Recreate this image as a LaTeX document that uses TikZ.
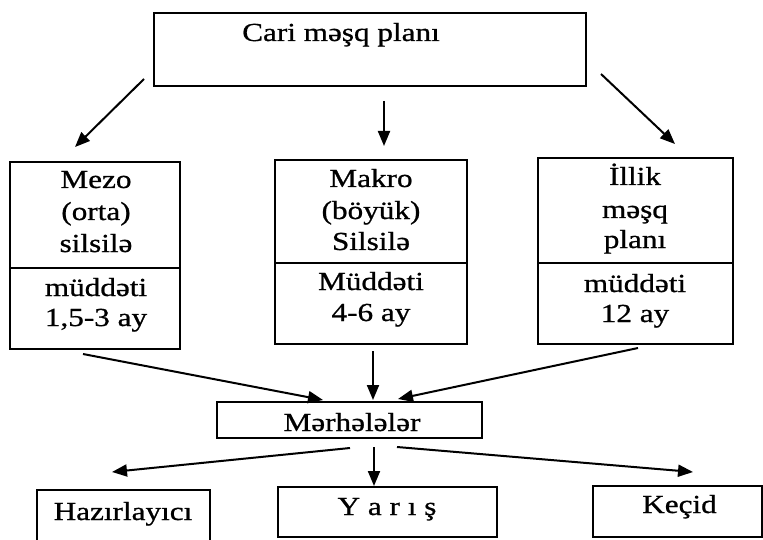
\documentclass[tikz,border=0pt]{standalone}
\usepackage{fontspec}
\setmainfont{Liberation Serif}[FakeStretch=1.2,FakeBold=0.8]
\usetikzlibrary{arrows.meta}
\begin{document}
\begin{tikzpicture}[x=1pt,y=-1pt,
  box/.style={draw,line width=2pt,inner sep=0pt,minimum width=#1},
  txt/.style={anchor=base,inner sep=0pt,font=\fontsize{26}{32}\selectfont},
  arr/.style={line width=2pt,-{Triangle[length=15pt,width=12pt]}},
  rule/.style={line width=2pt}]
\useasboundingbox (0,0) rectangle (763,540);

% top box
\node[box=432,minimum height=73] (top) at (370,49.5) {};
\node[txt] (toptxt) at (341,41) {Cari məşq planı};

% three period boxes
\node[box=170,minimum height=187] (mezo) at (95,255.5) {};
\node[box=192,minimum height=184] (makro) at (371,252) {};
\node[box=195,minimum height=186] (illik) at (635.5,251) {};
\draw[rule] (mezo.west |- 0,268) -- (mezo.east |- 0,268);
\draw[rule] (makro.west |- 0,263) -- (makro.east |- 0,263);
\draw[rule] (illik.west |- 0,263) -- (illik.east |- 0,263);

\node[txt] (mz1) at (96,188) {Mezo};
\node[txt] (mz2) at (96,220) {(orta)};
\node[txt] (mz3) at (96,252) {silsilə};
\node[txt] (mz4) at (96,296) {müddəti};
\node[txt] (mz5) at (96,326) {1,5-3 ay};

\node[txt] (mk1) at (371,187) {Makro};
\node[txt] (mk2) at (371,219) {(böyük)};
\node[txt] (mk3) at (371,250) {Silsilə};
\node[txt] (mk4) at (371,290) {Müddəti};
\node[txt] (mk5) at (371,321) {4-6 ay};

\node[txt] (il1) at (635,185) {İllik};
\node[txt] (il2) at (635,218) {məşq};
\node[txt] (il3) at (635,248) {planı};
\node[txt] (il4) at (635,292) {müddəti};
\node[txt] (il5) at (635,322) {12 ay};

% stages
\node[box=265,minimum height=36] (merh) at (349.5,420) {};
\node[txt] (merhtxt) at (352,431) {Mərhələlər};

\node[box=173,minimum height=55] (hazir) at (123.5,517.5) {};
\node[txt] (hazirtxt) at (123,520) {Hazırlayıcı};
\node[box=219,minimum height=50] (yaris) at (387.5,512) {};
\node[txt] (yaristxt) at (387,515) {Y a r ı ş};
\node[box=169,minimum height=51] (kecid) at (677.5,511.5) {};
\node[txt] (kecidtxt) at (679.5,513) {Keçid};

% connectors
\draw[arr] ([xshift=-9pt,yshift=8pt]top.south west) -- ([xshift=-20pt,yshift=14pt]mezo.north);
\draw[arr] ([xshift=14pt,yshift=-14pt]top.south) -- ([xshift=13pt,yshift=13pt]makro.north);
\draw[arr] ([xshift=14pt,yshift=13pt]top.south east) -- ([xshift=39.5pt,yshift=13pt]illik.north);

\draw[arr] ([xshift=-12pt,yshift=-4pt]mezo.south) -- ([xshift=-26.5pt,yshift=1pt]merh.north);
\draw[arr] ([xshift=2pt,yshift=-6pt]makro.south) -- ([xshift=23.5pt,yshift=1pt]merh.north);
\draw[arr] ([xshift=2.5pt,yshift=-3pt]illik.south) -- ([xshift=48.5pt,yshift=2pt]merh.north);

\draw[arr] ([xshift=0.5pt,yshift=-9pt]merh.south) -- ([xshift=-11.5pt,yshift=17pt]hazir.north);
\draw[arr] ([xshift=24.5pt,yshift=-8pt]merh.south) -- ([xshift=-13.5pt,yshift=0pt]yaris.north);
\draw[arr] ([xshift=47.5pt,yshift=-8pt]merh.south) -- ([xshift=15.5pt,yshift=13pt]kecid.north);
\end{tikzpicture}
\end{document}
